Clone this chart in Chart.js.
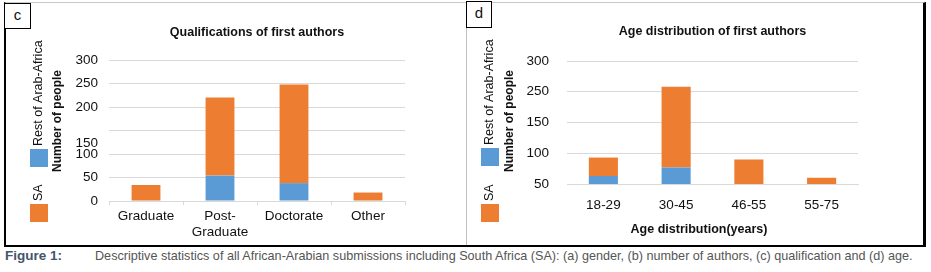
<!DOCTYPE html>
<html>
<head>
<meta charset="utf-8">
<script src="https://cdn.jsdelivr.net/npm/chart.js@4/dist/chart.umd.min.js"></script>
<style>
  html, body { margin: 0; padding: 0; background: #fff; }
  body { width: 931px; height: 272px; position: relative; overflow: hidden;
         font-family: 'Liberation Sans', Arial, sans-serif; }
  .frame { position: absolute; left: 4px; top: 2px; width: 917px; height: 242px;
           border-top: 1px solid #c8c8c8; border-left: 2px solid #000;
           border-right: 3px solid #000; border-bottom: 2px solid #000; }
  .divider { position: absolute; left: 466px; top: 2px; width: 1px; height: 243px; background: #c0c0c0; }
  .wrap { position: absolute; top: 3px; height: 242px; }
  .tag { position: absolute; box-sizing: border-box; border: 1.5px solid #000; background: #fff;
         font-size: 15px; line-height: 22px; text-align: center; color: #111; z-index: 2; }
  .caption { position: absolute; top: 248px; font-size: 12px; line-height: 16px; color: #555; white-space: nowrap; }
  .caption b { color: #44546a; }
</style>
</head>
<body>
<div class="frame"></div>
<div class="divider"></div>
<div class="tag" style="left:4px;top:3px;width:27px;height:26px;">c</div>
<div class="tag" style="left:466px;top:1px;width:26px;height:27px;">d</div>
<div class="wrap" style="left:6px;width:459px;"><canvas id="chartQual" width="459" height="242"></canvas></div>
<div class="wrap" style="left:467px;width:456px;"><canvas id="chartAge" width="456" height="242"></canvas></div>
<div class="caption" id="capHead" style="left:5px;"><b>Figure 1:</b></div>
<div class="caption" id="capText" style="left:95px;">Descriptive statistics of all African-Arabian submissions including South Africa (SA): (a) gender, (b) number of authors, (c) qualification and (d) age.</div>

<script>
const FONT = "'Liberation Sans', Arial, sans-serif";
const INK = '#111';
const BLUE = '#5b9bd5';
const ORANGE = '#ed7d31';
const GRID = '#d9d9d9';

// panel c: qualifications
const qualLabels = ['Graduate', ['Post-', 'Graduate'], 'Doctorate', 'Other'];
const qualRest = [0, 54, 38, 0];
const qualSA = [34, 166, 210, 18];
const qualTicks = ['0', '50', ['150', '100', ''], '', '200', '250', '300'];

// panel d: age
const ageLabels = ['18-29', '30-45', '46-55', '55-75'];
const ageRest = [63, 77, 0, 0];
const ageSA = [30, 131, 90, 60];
const ageTicks = ['50', '100', '150', '250', '300'];

const seriesNames = ['Rest of Arab-Africa', 'SA'];

Chart.defaults.font.family = FONT;
Chart.defaults.color = INK;

// caption is set in a wider face than the original, squeeze it to the same span
function fitCaption(el, width) {
  const w = el.getBoundingClientRect().width;
  const fs = parseFloat(getComputedStyle(el).fontSize);
  el.style.fontSize = (fs * width / w).toFixed(2) + 'px';
}
fitCaption(document.getElementById('capText'), 818);
fitCaption(document.getElementById('capHead'), 57);

// rotated legend, y title and optional x title, drawn like the Excel ones
const sideText = {
  id: 'sideText',
  afterDraw(chart, args, o) {
    const ctx = chart.ctx;
    ctx.save();
    const items = [
      { name: seriesNames[0], color: BLUE, sq: o.blueTop },
      { name: seriesNames[1], color: ORANGE, sq: o.orangeTop }
    ];
    items.forEach(it => {
      ctx.fillStyle = it.color;
      ctx.fillRect(o.legX, it.sq, 18, 18);
      ctx.save();
      ctx.translate(o.legX + 9, it.sq - 3);
      ctx.rotate(-Math.PI / 2);
      ctx.fillStyle = INK;
      ctx.font = '12.5px ' + FONT;
      ctx.textAlign = 'left';
      ctx.textBaseline = 'middle';
      ctx.fillText(it.name, 0, 0);
      ctx.restore();
    });
    ctx.save();
    ctx.translate(o.yTitleX, o.yTitleY);
    ctx.rotate(-Math.PI / 2);
    ctx.font = 'bold 12px ' + FONT;
    ctx.textAlign = 'center';
    ctx.textBaseline = 'middle';
    ctx.fillStyle = INK;
    ctx.fillText('Number of people', 0, 0);
    ctx.restore();
    if (o.xTitle) {
      ctx.font = 'bold 12.5px ' + FONT;
      ctx.textAlign = 'center';
      ctx.textBaseline = 'middle';
      ctx.fillStyle = INK;
      ctx.fillText(o.xTitle, o.xTitleX, o.xTitleY);
    }
    ctx.restore();
  }
};

function makeChart(id, cfg) {
  return new Chart(document.getElementById(id), {
    type: 'bar',
    data: {
      labels: cfg.labels,
      datasets: [
        { label: seriesNames[0], data: cfg.rest, backgroundColor: BLUE, categoryPercentage: 1, barPercentage: cfg.barPct },
        { label: seriesNames[1], data: cfg.sa, backgroundColor: ORANGE, categoryPercentage: 1, barPercentage: cfg.barPct }
      ]
    },
    plugins: [sideText],
    options: {
      responsive: false,
      animation: false,
      layout: { padding: { left: 0, right: cfg.padRight, top: 0, bottom: 0 } },
      plugins: {
        legend: { display: false },
        tooltip: { enabled: false },
        title: {
          display: true,
          text: cfg.title,
          fullSize: false,
          color: INK,
          font: { size: 12.5, weight: 'bold', lineHeight: 1.2 },
          padding: { top: cfg.titleTop, bottom: cfg.titleBottom }
        },
        sideText: cfg.side
      },
      scales: {
        x: {
          stacked: true,
          afterFit(s) { s.height = cfg.xHeight; },
          border: { display: true, color: GRID, width: 1 },
          grid: { drawOnChartArea: false, drawTicks: cfg.xTickMarks, tickLength: 4, color: GRID, offset: true },
          ticks: { color: INK, padding: cfg.xPad, font: { size: 13.5, lineHeight: 1.2 }, maxRotation: 0, autoSkip: false }
        },
        y: {
          stacked: true,
          min: cfg.yMin,
          max: cfg.yMax,
          afterFit(s) { s.width = cfg.yWidth; },
          border: { display: false },
          grid: { color: GRID, lineWidth: 1, drawTicks: false },
          ticks: {
            stepSize: 50,
            autoSkip: false,
            padding: cfg.yPad,
            color: INK,
            font: { size: 13.5, lineHeight: '11px' },
            callback: (v, i) => cfg.ticks[i]
          }
        }
      }
    }
  });
}

makeChart('chartQual', {
  labels: qualLabels, rest: qualRest, sa: qualSA, ticks: qualTicks,
  title: 'Qualifications of first authors',
  yMin: 0, yMax: 300, yWidth: 103, yPad: 11, padRight: 60,
  xHeight: 44, xPad: 2.9, xTickMarks: true, barPct: 0.39,
  titleTop: 22.5, titleBottom: 19.5,
  side: { legX: 24, blueTop: 146, orangeTop: 201, yTitleX: 52, yTitleY: 118 }
});

makeChart('chartAge', {
  labels: ageLabels, rest: ageRest, sa: ageSA, ticks: ageTicks,
  title: 'Age distribution of first authors',
  yMin: 50, yMax: 250, yWidth: 100, yPad: 18, padRight: 65,
  xHeight: 61, xPad: 12.9, xTickMarks: false, barPct: 0.4,
  titleTop: 21.5, titleBottom: 21.5,
  side: { legX: 14, blueTop: 145, orangeTop: 201, yTitleX: 43, yTitleY: 118,
          xTitle: 'Age distribution(years)', xTitleX: 232, xTitleY: 227 }
});
</script>
</body>
</html>
